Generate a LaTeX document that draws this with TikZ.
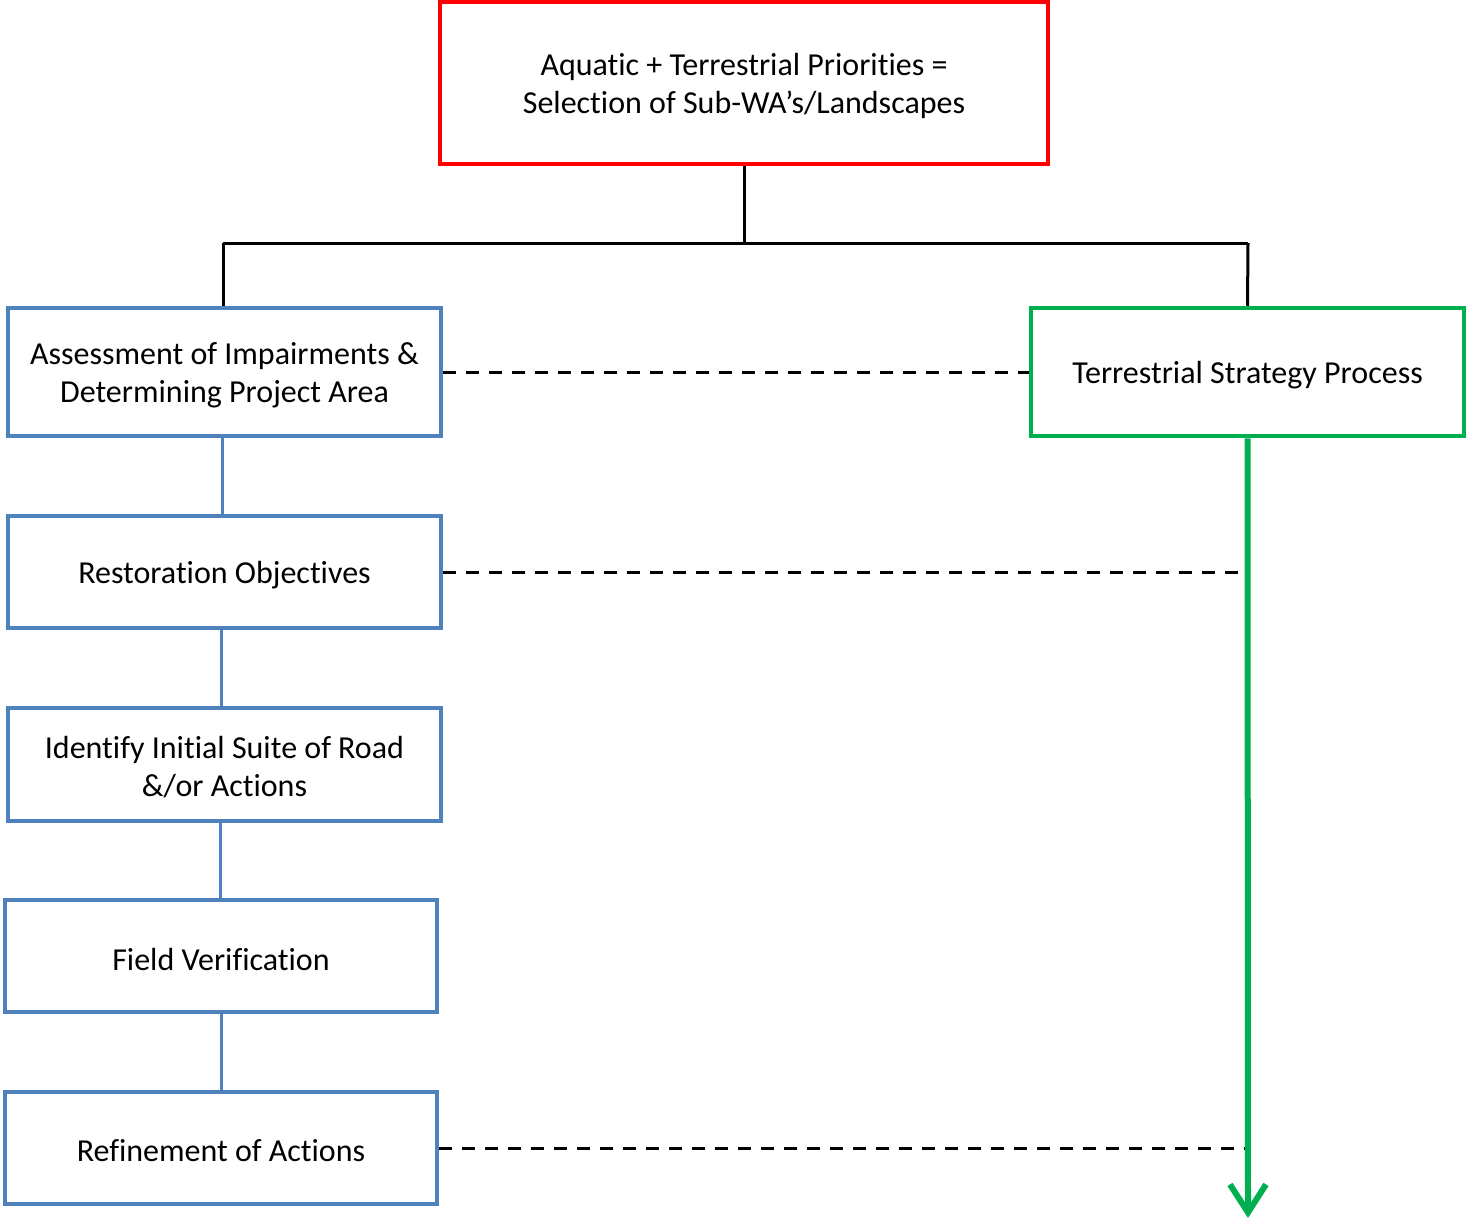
\documentclass[tikz,border=0pt]{standalone}
\usepackage{fontspec}
\setmainfont{Carlito}[Ligatures=NoCommon]
\usetikzlibrary{arrows.meta}
\definecolor{boxblue}{RGB}{79,129,189}
\definecolor{boxgreen}{RGB}{0,176,80}
\definecolor{boxred}{RGB}{255,0,0}
\begin{document}
\begin{tikzpicture}[x=0.5pt,y=-0.5pt,
  box/.style={draw, line width=2.25pt, fill=white, inner sep=0pt},
  boxtext/.style={align=center, inner sep=0pt, yshift=-1.5pt,
    font=\fontsize{16}{19}\selectfont},
  bluebox/.style={box, draw=boxblue},
  link/.style={line width=1.5pt},
  bluelink/.style={line width=1.5pt, draw=boxblue},
  dashlink/.style={line width=1.5pt, dash pattern=on 6.5pt off 5pt}]
\useasboundingbox (0,0) rectangle (1466,1220);

% boxes, each with its caption set slightly below centre
\node[box, draw=boxred, minimum width=304pt, minimum height=81pt,
  label={[boxtext]center:{Aquatic + Terrestrial Priorities =\\Selection of Sub-WA’s/Landscapes}}]
  (top) at (744,83) {};
\node[bluebox, minimum width=216.5pt, minimum height=64pt,
  label={[boxtext]center:{Assessment of Impairments \&\\Determining Project Area}}]
  (assess) at (224.5,372) {};
\node[box, draw=boxgreen, minimum width=216.5pt, minimum height=64pt,
  label={[boxtext]center:{Terrestrial Strategy Process}}]
  (terr) at (1247.5,372) {};
\node[bluebox, minimum width=216.5pt, minimum height=56pt,
  label={[boxtext]center:{Restoration Objectives}}]
  (restore) at (224.5,572) {};
\node[bluebox, minimum width=216.5pt, minimum height=56.5pt,
  label={[boxtext]center:{Identify Initial Suite of Road\\\&/or Actions}}]
  (identify) at (224.5,764.5) {};
\node[bluebox, minimum width=216pt, minimum height=56pt,
  label={[boxtext]center:{Field Verification}}]
  (field) at (221,956) {};
\node[bluebox, minimum width=216pt, minimum height=56pt,
  label={[boxtext]center:{Refinement of Actions}}]
  (refine) at (221,1148) {};

% branching from the top box
\coordinate (split) at (744,243);
\draw[link] (top.south) -- (split);
\draw[link] (223,243) -- (1248,243);
\draw[link] (assess.north -| 223,0) -- (223,243);
\draw[link] (terr.north) -- (1248,243);

% chain of steps
\draw[bluelink] (assess.south -| 222,0) -- (restore.north -| 222,0);
\draw[bluelink] (restore.south -| 221,0) -- (identify.north -| 221,0);
\draw[bluelink] (identify.south -| 220,0) -- (field.north -| 220,0);
\draw[bluelink] (field) -- (refine);

% dashed cross links
\coordinate (rline) at (1248,572);
\coordinate (fline) at (1248,1148);
\draw[dashlink] (assess.east) -- (terr.west);
\draw[dashlink] (restore.east) -- (rline);
\draw[dashlink] (refine.east) -- (fline);

% terrestrial timeline
\coordinate (tend) at (1248,1218);
\draw[line width=3pt, draw=boxgreen,
  -{Straight Barb[length=14pt, width=18pt, line width=3pt]}]
  (terr.south) -- (tend);
\end{tikzpicture}
\end{document}
